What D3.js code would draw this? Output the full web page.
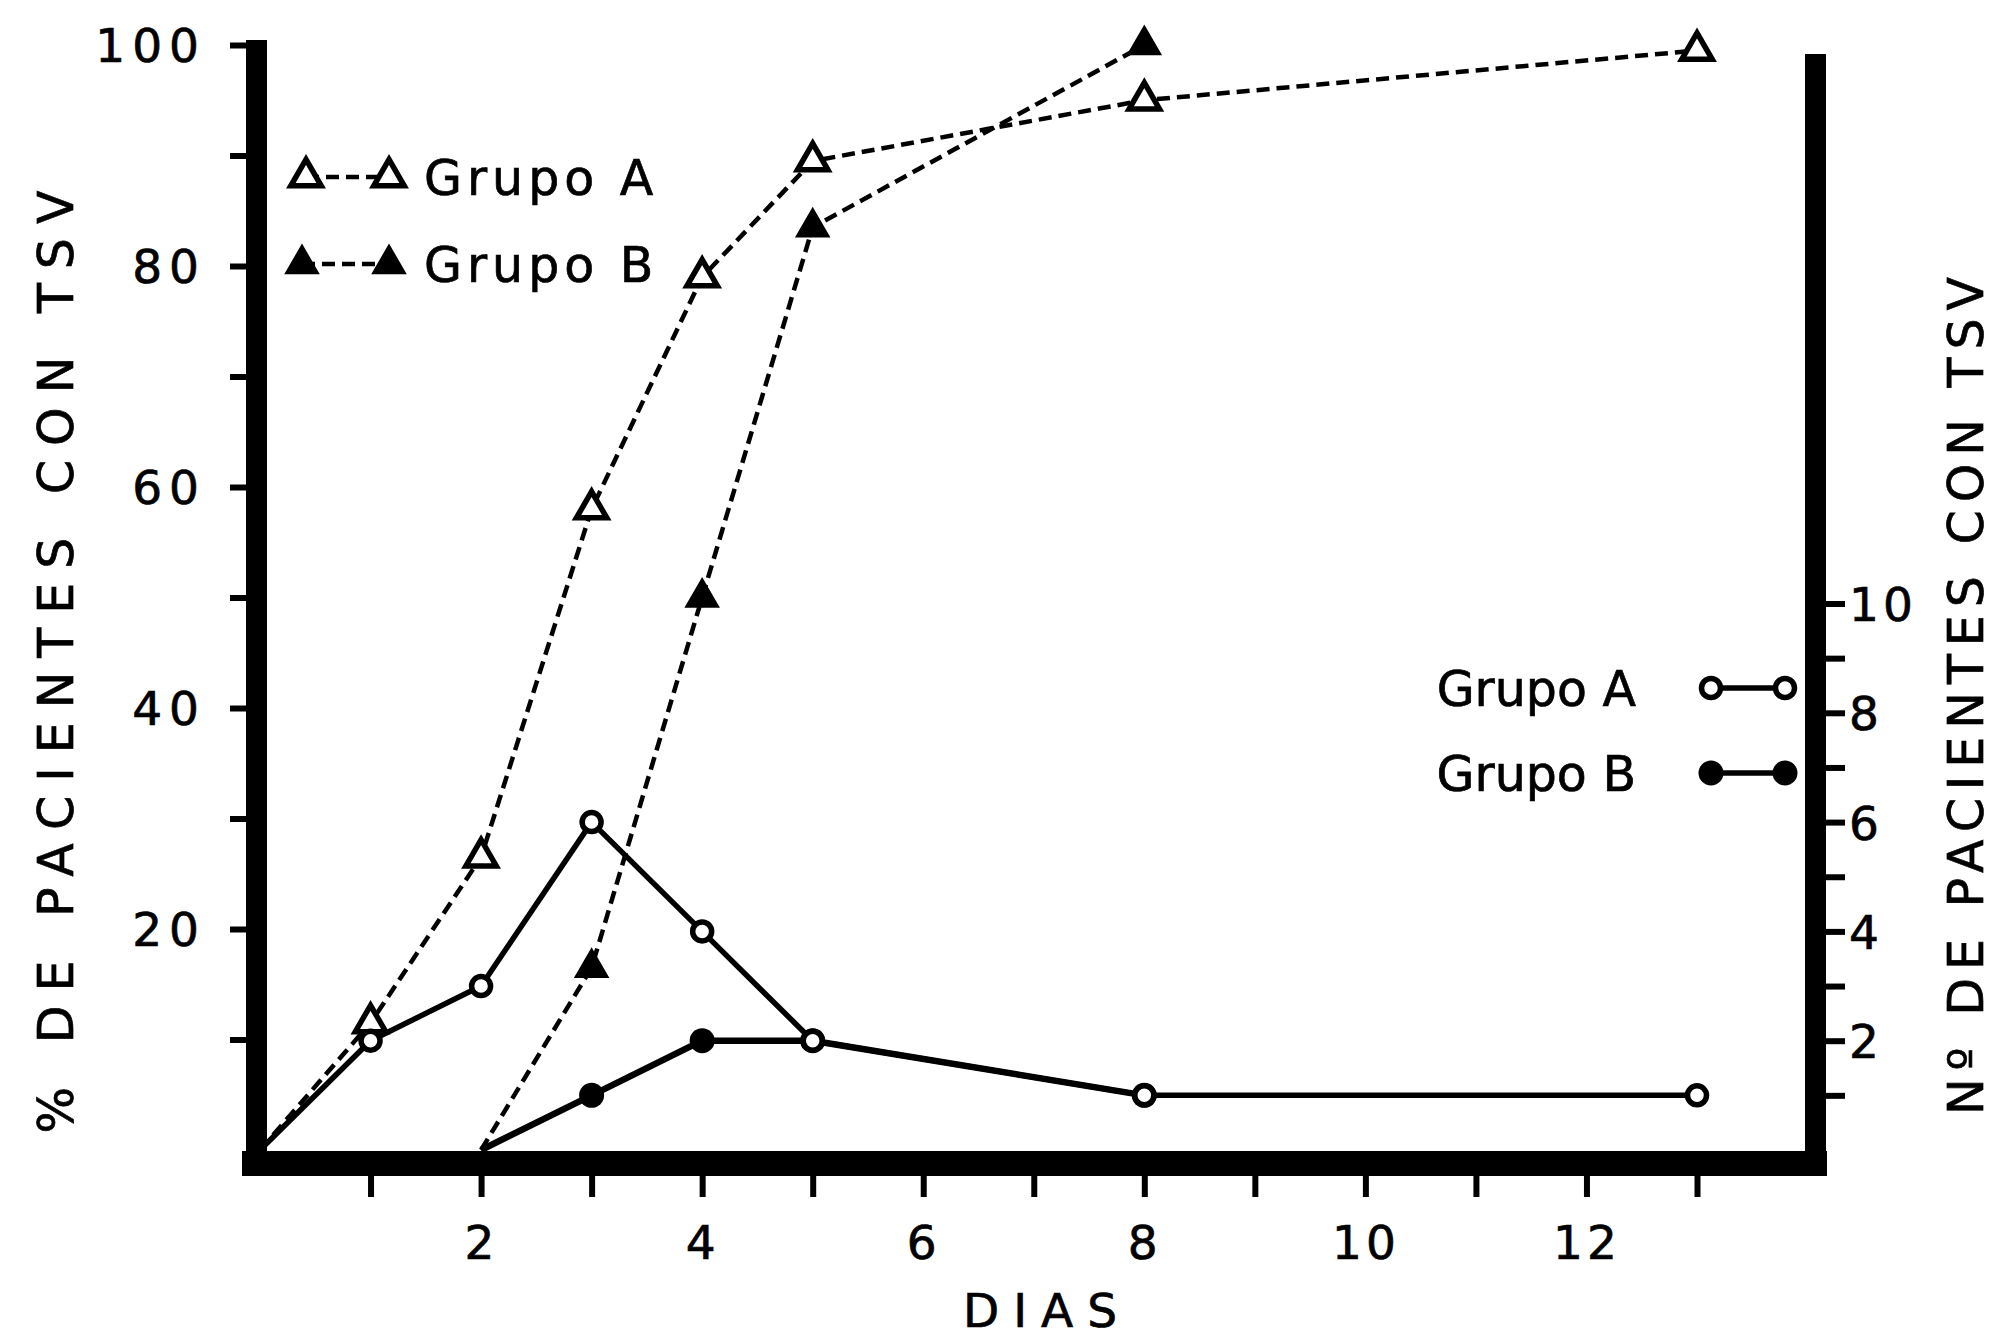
<!DOCTYPE html>
<html>
<head>
<meta charset="utf-8">
<script src="https://cdn.jsdelivr.net/npm/d3@7"></script>
<style>
  body { margin: 0; background: #fff; }
  svg text { font-family: "DejaVu Sans", sans-serif; fill: #000; stroke: #000; stroke-width: 0.7px; }
</style>
</head>
<body>
<svg id="chart" width="2000" height="1338"></svg>
<script>
// dias de seguimiento
var dias  = [0, 1, 2, 3, 4, 5, 8, 13];
var diasB = [2, 3, 4, 5, 8];

// % acumulado de pacientes con TSV (triangulos, linea discontinua)
var pctA = [0, 11.5, 26.5, 58, 79, 89.5, 95, 99.5];
var pctB = [0, 16.5, 50, 83.5, 100];

// nº de pacientes con TSV (circulos, linea continua)
var nA = [0, 2, 3, 6, 4, 2, 1, 1];
var nB = [0, 1, 2, 2, 1];

// ejes
var xTicks  = d3.range(1, 14);
var xLabels = [2, 4, 6, 8, 10, 12];
var pTicks  = [10, 20, 30, 40, 50, 60, 70, 80, 90, 100];
var pLabels = [20, 40, 60, 80, 100];
var nTicks  = d3.range(1, 11);
var nLabels = [2, 4, 6, 8, 10];

var svg = d3.select("#chart");

var x  = d3.scaleLinear().domain([0, 13]).range([260, 1697]);
var yP = d3.scaleLinear().domain([0, 100]).range([1150, 45]);
var yN = d3.scaleLinear().domain([0, 20]).range([1150, 57]);

// ---- marco grueso ----
var frame = svg.append("g").attr("fill", "#000");
frame.append("rect").attr("x", 246).attr("y", 40).attr("width", 21).attr("height", 1136);
frame.append("rect").attr("x", 242).attr("y", 1151).attr("width", 1585).attr("height", 25);
frame.append("rect").attr("x", 1805).attr("y", 54).attr("width", 21).attr("height", 1122);

// ---- eje izquierdo (%) ----
var axL = svg.append("g")
    .attr("transform", "translate(246,0)")
    .call(d3.axisLeft(yP).tickValues(pTicks).tickSize(16).tickPadding(24)
      .tickFormat(function(d) { return pLabels.indexOf(d) >= 0 ? d : ""; }));
axL.select(".domain").remove();
axL.selectAll(".tick line").attr("stroke", "#000").attr("stroke-width", 6);
axL.selectAll(".tick text")
    .attr("font-size", 47).attr("letter-spacing", 7).attr("dy", "0.36em")
    .style("font-family", "DejaVu Sans");

// ---- eje inferior (dias) ----
var axB = svg.append("g")
    .attr("transform", "translate(0,1176)")
    .call(d3.axisBottom(x).tickValues(xTicks).tickSize(21).tickPadding(29)
      .tickFormat(function(d) { return xLabels.indexOf(d) >= 0 ? d : ""; }));
axB.select(".domain").remove();
axB.selectAll(".tick line").attr("stroke", "#000").attr("stroke-width", 6);
axB.selectAll(".tick text")
    .attr("font-size", 47).attr("letter-spacing", 4)
    .style("font-family", "DejaVu Sans");

// ---- eje derecho (nº) ----
var axR = svg.append("g")
    .attr("transform", "translate(1826,0)")
    .call(d3.axisRight(yN).tickValues(nTicks).tickSize(19).tickPadding(4)
      .tickFormat(function(d) { return nLabels.indexOf(d) >= 0 ? d : ""; }));
axR.select(".domain").remove();
axR.selectAll(".tick line").attr("stroke", "#000").attr("stroke-width", 6);
axR.selectAll(".tick text")
    .attr("font-size", 47).attr("letter-spacing", 4).attr("dy", "0.36em")
    .style("font-family", "DejaVu Sans");

// ---- titulos ----
svg.append("text")
    .attr("transform", "translate(73,655) rotate(-90)")
    .attr("text-anchor", "middle").attr("font-size", 49).attr("letter-spacing", 14)
    .text("% DE PACIENTES CON TSV");

svg.append("text")
    .attr("transform", "translate(1983,692) rotate(-90)")
    .attr("text-anchor", "middle").attr("font-size", 49).attr("letter-spacing", 8)
    .text("Nº DE PACIENTES CON TSV");

svg.append("text")
    .attr("x", 1047).attr("y", 1327)
    .attr("text-anchor", "middle").attr("font-size", 47).attr("letter-spacing", 14)
    .text("DIAS");

// ---- series ----
var serA_p = d3.zip(dias, pctA);
var serB_p = d3.zip(diasB, pctB);
var serA_n = d3.zip(dias, nA);
var serB_n = d3.zip(diasB, nB);

var lineP = d3.line().x(function(d) { return x(d[0]); }).y(function(d) { return yP(d[1]); });
var lineN = d3.line().x(function(d) { return x(d[0]); }).y(function(d) { return yN(d[1]); });

var tri = d3.symbol().type(d3.symbolTriangle).size(400);

function dashed(data) {
  svg.append("path").datum(data).attr("d", lineP)
    .attr("fill", "none").attr("stroke", "#000").attr("stroke-width", 4.5)
    .attr("stroke-dasharray", "13,7");
}
function solid(data, w) {
  svg.append("path").datum(data).attr("d", lineN)
    .attr("fill", "none").attr("stroke", "#000").attr("stroke-width", w)
    .attr("stroke-linejoin", "round");
}

dashed(serA_p);
dashed(serB_p);
solid(serA_n, 5.5);
solid(serB_n, 6.5);

// marcadores (se omiten los que caen sobre el eje)
svg.append("g").selectAll("path")
    .data(serA_p.filter(function(d) { return d[1] > 0; }))
  .enter().append("path")
    .attr("d", tri)
    .attr("transform", function(d) { return "translate(" + x(d[0]) + "," + yP(d[1]) + ")"; })
    .attr("fill", "#fff").attr("stroke", "#000").attr("stroke-width", 5.5);

svg.append("g").selectAll("path")
    .data(serB_p.filter(function(d) { return d[1] > 0; }))
  .enter().append("path")
    .attr("d", tri)
    .attr("transform", function(d) { return "translate(" + x(d[0]) + "," + yP(d[1]) + ")"; })
    .attr("fill", "#000").attr("stroke", "#000").attr("stroke-width", 3);

svg.append("g").selectAll("circle")
    .data(serB_n.filter(function(d) { return d[1] > 0; }))
  .enter().append("circle")
    .attr("cx", function(d) { return x(d[0]); })
    .attr("cy", function(d) { return yN(d[1]); })
    .attr("r", 12.5).attr("fill", "#000");

svg.append("g").selectAll("circle")
    .data(serA_n.filter(function(d) { return d[1] > 0; }))
  .enter().append("circle")
    .attr("cx", function(d) { return x(d[0]); })
    .attr("cy", function(d) { return yN(d[1]); })
    .attr("r", 9.5).attr("fill", "#fff").attr("stroke", "#000").attr("stroke-width", 5.5);

// ---- leyenda superior izquierda (%) ----
var legP = [
  {label: "Grupo A", y: 177, fill: "#fff", x0: 306},
  {label: "Grupo B", y: 264, fill: "#000", x0: 302}
];
legP.forEach(function(l) {
  svg.append("line").attr("x1", l.x0).attr("x2", 389).attr("y1", l.y).attr("y2", l.y)
    .attr("stroke", "#000").attr("stroke-width", 4.5).attr("stroke-dasharray", "13,7");
  [l.x0, 389].forEach(function(cx) {
    svg.append("path").attr("d", tri)
      .attr("transform", "translate(" + cx + "," + l.y + ")")
      .attr("fill", l.fill).attr("stroke", "#000").attr("stroke-width", l.fill === "#fff" ? 5.5 : 3);
  });
  svg.append("text").attr("x", 424).attr("y", l.y + 18)
    .attr("font-size", 49).attr("letter-spacing", 5).text(l.label);
});

// ---- leyenda derecha (nº) ----
var legN = [
  {label: "Grupo A", y: 688, filled: false},
  {label: "Grupo B", y: 773, filled: true}
];
legN.forEach(function(l) {
  svg.append("line").attr("x1", 1711).attr("x2", 1785).attr("y1", l.y).attr("y2", l.y)
    .attr("stroke", "#000").attr("stroke-width", 5.5);
  [1711, 1785].forEach(function(cx) {
    var c = svg.append("circle").attr("cx", cx).attr("cy", l.y);
    if (l.filled) c.attr("r", 12.5).attr("fill", "#000");
    else c.attr("r", 9.5).attr("fill", "#fff").attr("stroke", "#000").attr("stroke-width", 5.5);
  });
  svg.append("text").attr("x", 1636).attr("y", l.y + 18)
    .attr("text-anchor", "end").attr("font-size", 49).text(l.label);
});
</script>
</body>
</html>
